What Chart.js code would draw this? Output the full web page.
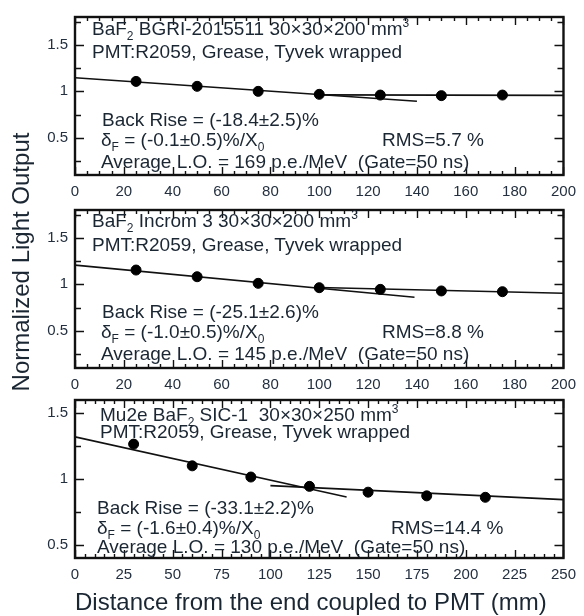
<!DOCTYPE html>
<html>
<head>
<meta charset="utf-8">
<script src="https://cdn.jsdelivr.net/npm/chart.js@4.4.1/dist/chart.umd.min.js"></script>
<style>
  body { margin: 0; background: #fff; }
  #wrap { position: relative; width: 584px; height: 616px; overflow: hidden;
          font-family: 'Liberation Sans', Arial, sans-serif; color: #1b2633; }
  canvas { position: absolute; left: 0; }
  .note { position: absolute; font-size: 19px; line-height: 19px; white-space: pre; }
  .sub { font-size: 12px; position: relative; top: 5px; }
  .sup { font-size: 12px; position: relative; top: -8px; }
  .ytitle { position: absolute; left: -129px; top: 250px; width: 300px; height: 24px;
            line-height: 24px; font-size: 24px; text-align: center; transform: rotate(-90deg); }
  .xtitle { position: absolute; left: 75px; top: 590px; font-size: 24px; line-height: 24px; white-space: pre; }
</style>
</head>
<body>
<div id="wrap">
  <canvas id="c1" width="584" height="200" style="top:0px"></canvas>
  <canvas id="c2" width="584" height="200" style="top:193px"></canvas>
  <canvas id="c3" width="584" height="200" style="top:383px"></canvas>

  <!-- top panel -->
  <div class="note" style="left:92px;top:19px">BaF<span class="sub">2</span> BGRI-2015511 30×30×200 mm<span class="sup">3</span></div>
  <div class="note" style="left:92px;top:42px">PMT:R2059, Grease, Tyvek wrapped</div>
  <div class="note" style="left:102px;top:110px">Back Rise = (-18.4±2.5)%</div>
  <div class="note" style="left:101px;top:130px">δ<span class="sub">F</span> = (-0.1±0.5)%/X<span class="sub">0</span></div>
  <div class="note" style="left:382px;top:130px">RMS=5.7 %</div>
  <div class="note" style="left:101px;top:152px">Average L.O. = 169 p.e./MeV  (Gate=50 ns)</div>

  <!-- middle panel -->
  <div class="note" style="left:92px;top:211px">BaF<span class="sub">2</span> Incrom 3 30×30×200 mm<span class="sup">3</span></div>
  <div class="note" style="left:92px;top:235px">PMT:R2059, Grease, Tyvek wrapped</div>
  <div class="note" style="left:102px;top:302px">Back Rise = (-25.1±2.6)%</div>
  <div class="note" style="left:101px;top:322px">δ<span class="sub">F</span> = (-1.0±0.5)%/X<span class="sub">0</span></div>
  <div class="note" style="left:382px;top:322px">RMS=8.8 %</div>
  <div class="note" style="left:101px;top:344px">Average L.O. = 145 p.e./MeV  (Gate=50 ns)</div>

  <!-- bottom panel -->
  <div class="note" style="left:100px;top:405px">Mu2e BaF<span class="sub">2</span> SIC-1  30×30×250 mm<span class="sup">3</span></div>
  <div class="note" style="left:100px;top:422px">PMT:R2059, Grease, Tyvek wrapped</div>
  <div class="note" style="left:97px;top:498px">Back Rise = (-33.1±2.2)%</div>
  <div class="note" style="left:97px;top:518px">δ<span class="sub">F</span> = (-1.6±0.4)%/X<span class="sub">0</span></div>
  <div class="note" style="left:391px;top:518px">RMS=14.4 %</div>
  <div class="note" style="left:97px;top:537px">Average L.O. = 130 p.e./MeV  (Gate=50 ns)</div>

  <div class="ytitle">Normalized Light Output</div>
  <div class="xtitle">Distance from the end coupled to PMT (mm)</div>
</div>

<script>
// BGRI-2015511
const bgriDist = [25, 50, 75, 100, 125, 150, 175];
const bgriLO = [1.107, 1.054, 1.0, 0.968, 0.96, 0.954, 0.96];
const bgriFrontFitX = [0, 140];
const bgriFrontFitY = [1.146, 0.893];
const bgriBackFitX = [100, 200];
const bgriBackFitY = [0.962, 0.957];

// Incrom 3
const incromDist = [25, 50, 75, 100, 125, 150, 175];
const incromLO = [1.154, 1.082, 1.011, 0.964, 0.946, 0.929, 0.921];
const incromFrontFitX = [0, 139];
const incromFrontFitY = [1.207, 0.861];
const incromBackFitX = [100, 200];
const incromBackFitY = [0.966, 0.904];

// SIC-1
const sicDist = [30, 60, 90, 120, 150, 180, 210];
const sicLO = [1.265, 1.10, 1.015, 0.944, 0.90, 0.872, 0.861];
const sicFrontFitX = [0, 139];
const sicFrontFitY = [1.32, 0.864];
const sicBackFitX = [100, 250];
const sicBackFitY = [0.95, 0.843];

// axes
const xTicks200 = [0, 20, 40, 60, 80, 100, 120, 140, 160, 180, 200];
const xTicks250 = [0, 25, 50, 75, 100, 125, 150, 175, 200, 225, 250];
const yTickValues = [0.5, 1, 1.5];
const yTickLabels = ['0.5', '1', '1.5'];

const pts = (xs, ys) => xs.map((x, i) => ({ x, y: ys[i] }));

// frame + inward ticks on all four sides
const frameTicks = {
    id: 'frameTicks',
    afterDatasetsDraw(chart, args, opts) {
        const { ctx, chartArea: a, scales: { x, y } } = chart;
        ctx.save();
        ctx.strokeStyle = '#111';
        ctx.lineWidth = 1.4;
        ctx.beginPath();
        for (let v = x.min; v <= x.max + 1e-9; v += opts.xMinor) {
            const px = Math.round(x.getPixelForValue(v)) + 0.5;
            const r = v / opts.xMajor;
            const len = Math.abs(r - Math.round(r)) < 1e-6 ? 8 : 4;
            ctx.moveTo(px, a.bottom); ctx.lineTo(px, a.bottom - len);
            ctx.moveTo(px, a.top); ctx.lineTo(px, a.top + len);
        }
        const start = Math.ceil(y.min / opts.yMinor - 1e-9) * opts.yMinor;
        for (let v = start; v <= y.max + 1e-9; v += opts.yMinor) {
            const py = Math.round(y.getPixelForValue(v)) + 0.5;
            const r = v / 0.5;
            const len = Math.abs(r - Math.round(r)) < 1e-6 ? 9 : 6;
            ctx.moveTo(a.left, py); ctx.lineTo(a.left + len, py);
            ctx.moveTo(a.right, py); ctx.lineTo(a.right - len, py);
        }
        ctx.stroke();
        ctx.lineWidth = 2.4;
        ctx.strokeRect(a.left, a.top, a.width, a.height);
        ctx.restore();
    }
};

const tickFont = { family: "'Liberation Sans', Arial, sans-serif", size: 15 };

function makePanel(id, dist, lo, fx1, fy1, fx2, fy2, xTicks, xMax, yMin, yMax, xMinor) {
    return new Chart(document.getElementById(id), {
        type: 'scatter',
        data: {
            datasets: [
                { data: pts(dist, lo), backgroundColor: '#000', borderColor: '#000',
                  pointRadius: 5, pointHoverRadius: 5, order: 0 },
                { type: 'line', data: pts(fx1, fy1), borderColor: '#111', borderWidth: 1.6,
                  pointRadius: 0, fill: false, order: 1 },
                { type: 'line', data: pts(fx2, fy2), borderColor: '#111', borderWidth: 1.6,
                  pointRadius: 0, fill: false, order: 1 }
            ]
        },
        options: {
            responsive: false, animation: false, devicePixelRatio: 1,
            layout: { padding: { top: 17, right: 17, left: 0, bottom: 0 } },
            plugins: {
                legend: { display: false }, tooltip: { enabled: false },
                frameTicks: { xMinor: xMinor, xMajor: xTicks[1], yMinor: 0.25 }
            },
            scales: {
                x: {
                    type: 'linear', min: 0, max: xMax,
                    grid: { display: false, drawTicks: false }, border: { display: false },
                    afterBuildTicks: s => { s.ticks = xTicks.map(v => ({ value: v })); },
                    afterFit: s => { s.height = 25; },
                    ticks: { autoSkip: false, maxRotation: 0, padding: 8, color: '#243040', font: tickFont }
                },
                y: {
                    min: yMin, max: yMax,
                    grid: { display: false, drawTicks: false }, border: { display: false },
                    afterBuildTicks: s => { s.ticks = yTickValues.map(v => ({ value: v })); },
                    afterFit: s => { s.width = 75; },
                    ticks: {
                        padding: 7, color: '#243040', font: tickFont,
                        callback: v => yTickLabels[yTickValues.indexOf(v)]
                    }
                }
            }
        },
        plugins: [frameTicks]
    });
}

makePanel('c1', bgriDist, bgriLO, bgriFrontFitX, bgriFrontFitY, bgriBackFitX, bgriBackFitY, xTicks200, 200, 0.1, 1.8, 5);
makePanel('c2', incromDist, incromLO, incromFrontFitX, incromFrontFitY, incromBackFitX, incromBackFitY, xTicks200, 200, 0.1, 1.8, 5);
makePanel('c3', sicDist, sicLO, sicFrontFitX, sicFrontFitY, sicBackFitX, sicBackFitY, xTicks250, 250, 0.4, 1.6, 5);
</script>
</body>
</html>
